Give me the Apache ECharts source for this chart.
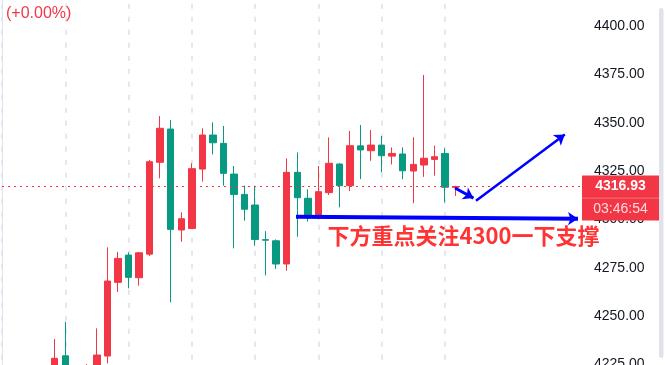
<!DOCTYPE html>
<html><head><meta charset="utf-8">
<script src="https://cdn.jsdelivr.net/npm/echarts@6/dist/echarts.min.js"></script>
<style>html,body{margin:0;padding:0;background:#fff;overflow:hidden}#c{width:665px;height:365px}</style>
</head><body><div id="c"></div>
<script>
// ---- data (bar index 0..55; bars 0..43 have data, rest is empty future space)
const barCount = 56;
const categories = Array.from({length: barCount}, (_, i) => String(i));
const opens  = ['-','-','-','-','-',4221,4229.4,'-',4216,4222,4229.3,4267.4,4281.5,4269.8,4282.0,4329.5,4346.7,4294.5,4295.3,4326.0,4343.6,4339.3,4323.4,4312.9,4307.4,4289.5,4288.9,4276.9,4324.3,4310.9,4301.0,4313.8,4328.6,4317.4,4338.0,4335.5,4338.4,4332.7,4333.8,4325.0,4328.1,4331.0,4334.1,4316.5];
const closes = ['-','-','-','-','-',4228.1,4221,'-',4222,4229.8,4268.1,4279.8,4270.0,4282.7,4329.8,4347.1,4294.8,4300.3,4326.2,4343.6,4339.6,4323.8,4312.9,4305.2,4289.6,4289.2,4276.9,4324.3,4311.2,4302.2,4314.3,4329.0,4317.4,4338.1,4335.9,4338.4,4332.9,4334.1,4325.1,4328.4,4331.6,4332.4,4316.6,4316.93];
const lows   = ['-','-','-','-','-',4215,4218,'-',4213,4219,4225.5,4262.5,4264.3,4265.7,4281.0,4321.2,4257.1,4288.4,4295.0,4319.5,4333.6,4317.4,4285.0,4299.3,4286.3,4271.0,4274.4,4273.4,4291.0,4298.8,4300.0,4312.6,4306.2,4314.6,4320.8,4330.3,4324.3,4328.4,4320.7,4308.3,4322.0,4322.6,4308.8,4312.1];
const highs  = ['-','-','-','-','-',4238.1,4247.0,'-',4225.1,4243.6,4285.5,4283.2,4282.9,4283.0,4330.7,4353.4,4351.4,4303.6,4329.0,4347.1,4350.2,4348.3,4327.6,4317.4,4317.4,4293.9,4289.6,4331.5,4334.6,4315.5,4327.6,4342.4,4329.0,4345.7,4348.8,4346.2,4343.1,4337.2,4337.2,4342.4,4374.7,4338.1,4336.7,4317.4];
const yTicks = {min: 4200, max: 4425, step: 25};
const lastPrice = 4316.93;
const changeText = '(+0.00%)';
const timerText = '03:46:54';
const noteText = '下方重点关注4300一下支撑';
const noteAnchor = [30.82, 4291.4];           // [bar index, price]
const arrowSupport = [[27.88, 4301.4], [54.62, 4300.3]];
const arrowDown    = [[42.96, 4316.2], [44.71, 4311.0]];
const arrowUp      = [[44.95, 4309.6], [53.37, 4343.9]];

const RED = '#f23645', GREEN = '#089981', BLUE = '#0000ff';
const candles = opens.map((o, i) => o === '-' ? '-' : [o, closes[i], lows[i], highs[i]]);
const dataBars = opens.length;

const chart = echarts.init(document.getElementById('c'), null, {renderer: 'canvas'});
const option = {
  animation: false,
  backgroundColor: '#ffffff',
  grid: {left: 2, right: 83, top: -22.33, bottom: -47.67, containLabel: false, outerBoundsMode: 'none'},
  xAxis: [{
    type: 'category', data: categories, boundaryGap: false,
    axisLine: {show: false}, axisTick: {show: false}, axisLabel: {show: false},
    splitLine: {show: true, interval: (i) => i % 6 === 0 && i < dataBars,
      lineStyle: {color: '#dcdfe8', width: 1.5, type: [5, 8]}}
  }, {
    type: 'value', min: 0, max: barCount - 1, show: false
  }],
  yAxis: {
    type: 'value', position: 'right', min: yTicks.min, max: yTicks.max, interval: yTicks.step,
    axisLine: {show: true, lineStyle: {color: '#e0e3eb', width: 1}},
    axisTick: {show: false}, splitLine: {show: false},
    axisLabel: {color: '#131722', fontSize: 14, margin: 12, fontFamily: 'Liberation Sans, Arial, sans-serif',
      formatter: (v) => v.toFixed(2)}
  },
  series: [{
    type: 'candlestick', data: candles, barWidth: 7,
    itemStyle: {color: RED, color0: GREEN, borderColor: RED, borderColor0: GREEN, borderWidth: 1},
    markLine: {
      silent: true, symbol: ['none', 'none'], label: {show: false},
      lineStyle: {color: RED, width: 1, type: [2, 4]},
      data: [{yAxis: lastPrice}]
    }
  }, {
    type: 'lines', coordinateSystem: 'cartesian2d', xAxisIndex: 1, yAxisIndex: 0,
    clip: false, symbol: ['none', 'arrow'], symbolSize: 10, z: 5,
    lineStyle: {color: BLUE, width: 3, opacity: 1},
    data: [
      {coords: arrowSupport, lineStyle: {width: 4}},
      {coords: arrowDown, lineStyle: {width: 3}},
      {coords: arrowUp, lineStyle: {width: 2.5}}
    ]
  }, {
    type: 'scatter', xAxisIndex: 1, yAxisIndex: 0, data: [noteAnchor], symbolSize: 1, clip: false,
    itemStyle: {color: 'rgba(0,0,0,0)'}, silent: true, z: 6,
    labelLayout: {hideOverlap: false},
    label: {show: true, position: 'right', distance: 0, formatter: noteText, color: '#ff0000',
      fontSize: 22, fontWeight: 'bold', fontFamily: '"Noto Sans CJK SC", sans-serif'}
  }]
};
chart.setOption(option);

const py = chart.convertToPixel({yAxisIndex: 0}, lastPrice);
const ax = 665 - 83;
chart.setOption({
  graphic: [
    {type: 'text', left: 6, top: 6, z: 10,
      style: {text: changeText, fill: RED, font: '16px "Liberation Sans", Arial, sans-serif'}},
    {type: 'rect', z: 1, shape: {x: 659, y: 8, width: 4.5, height: 350, r: 2.2}, style: {fill: '#e0e3eb'}},
    {type: 'rect', z: 20, shape: {x: ax, y: py - 11, width: 77, height: 45}, style: {fill: RED}},
    {type: 'line', z: 21, shape: {x1: ax, y1: py + 11.5, x2: ax + 77, y2: py + 11.5}, style: {stroke: 'rgba(255,255,255,0.3)', lineWidth: 1}},
    {type: 'text', z: 22, x: ax + 38.5, y: py, style: {text: lastPrice.toFixed(2), fill: '#ffffff', align: 'center', verticalAlign: 'middle',
      font: 'bold 14px "Liberation Sans", Arial, sans-serif'}},
    {type: 'text', z: 22, x: ax + 38.5, y: py + 22.5, style: {text: timerText, fill: 'rgba(255,255,255,0.82)', align: 'center', verticalAlign: 'middle',
      font: '14px "Liberation Sans", Arial, sans-serif'}}
  ]
});
</script>
</body></html>
